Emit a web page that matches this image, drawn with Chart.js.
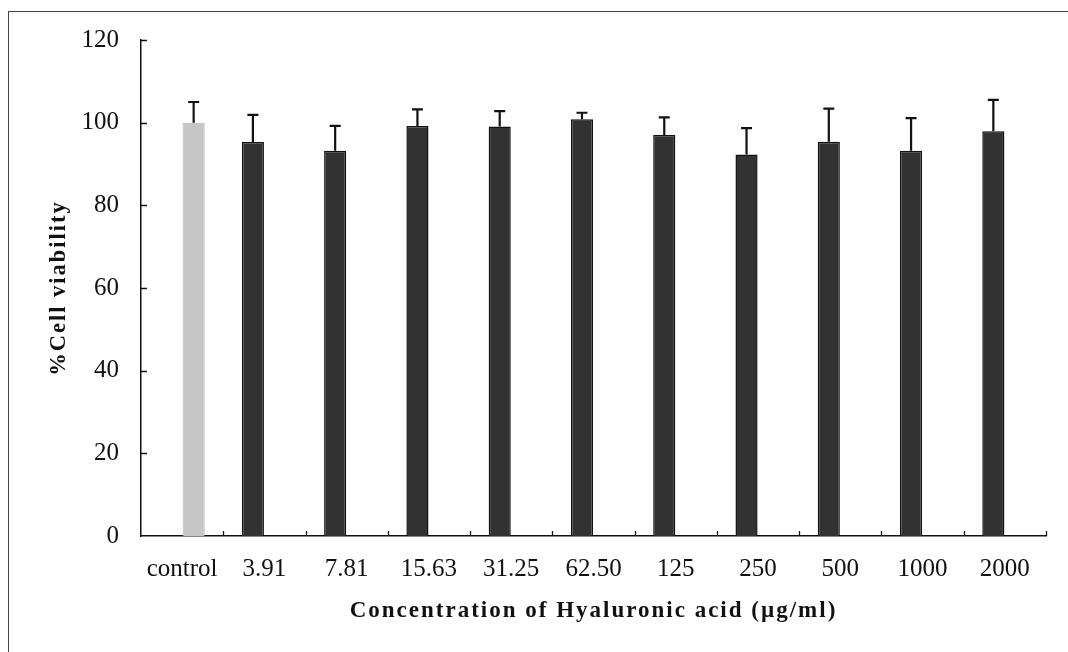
<!DOCTYPE html>
<html><head><meta charset="utf-8">
<script src="https://cdn.jsdelivr.net/npm/chart.js@4.4.0/dist/chart.umd.min.js"></script>
<style>html,body{margin:0;padding:0;background:#fff;}#wrap{width:1068px;height:652px;}</style>
</head><body><div id="wrap"><canvas id="c" width="1068" height="652"></canvas></div>
<script>
// ---- data ----
const categories = ['control', '3.91', '7.81', '15.63', '31.25', '62.50', '125', '250', '500', '1000', '2000'];
const controlValues = [100, null, null, null, null, null, null, null, null, null, null];
const treatmentValues = [null, 95.3, 93.2, 99.2, 99.1, 100.8, 97.0, 92.3, 95.4, 93.2, 97.9];
const errorValues = [5.0, 6.6, 6.0, 4.0, 3.7, 1.6, 4.3, 6.4, 8.0, 7.9, 7.6];
const yTicks = [0, 20, 40, 60, 80, 100, 120];

const SERIF = "'Liberation Serif', 'Times New Roman', serif";

const framePlugin = {
  id: 'frame',
  beforeDraw(chart) {
    const ctx = chart.ctx;
    ctx.save();
    ctx.fillStyle = '#fff';
    ctx.fillRect(0, 0, chart.width, chart.height);
    ctx.strokeStyle = '#444';
    ctx.lineWidth = 1;
    ctx.strokeRect(8.5, 11.5, chart.width + 20, chart.height + 20);
    ctx.restore();
    ctx.letterSpacing = '2px';
  },
  beforeDatasetsDraw(chart) {
    chart.ctx.letterSpacing = '0px';
  }
};

const errorBarPlugin = {
  id: 'errorBars',
  afterDatasetsDraw(chart) {
    const ctx = chart.ctx;
    const y = chart.scales.y;
    ctx.save();
    ctx.strokeStyle = '#111';
    ctx.lineWidth = 2.2;
    chart.data.datasets.forEach((ds, d) => {
      const meta = chart.getDatasetMeta(d);
      meta.data.forEach((el, i) => {
        const v = ds.data[i];
        if (v === null || v === undefined) return;
        const top = y.getPixelForValue(v + errorValues[i]);
        const base = y.getPixelForValue(v);
        ctx.beginPath();
        ctx.moveTo(el.x, base);
        ctx.lineTo(el.x, top);
        ctx.moveTo(el.x - 5.5, top);
        ctx.lineTo(el.x + 5.5, top);
        ctx.stroke();
      });
    });
    ctx.restore();
  }
};

const innerTicksPlugin = {
  id: 'innerTicks',
  afterDatasetsDraw(chart) {
    const ctx = chart.ctx;
    const {x, y} = chart.scales;
    const a = chart.chartArea;
    ctx.save();
    ctx.strokeStyle = '#111';
    ctx.lineWidth = 1.3;
    ctx.beginPath();
    yTicks.forEach(t => {
      if (t === 0) return;
      const py = Math.round(y.getPixelForValue(t)) + 0.5;
      ctx.moveTo(a.left, py);
      ctx.lineTo(a.left + 6, py);
    });
    for (let i = 0; i < categories.length; i++) {
      const px = Math.round(x.getPixelForValue(i + 0.5)) + 0.5;
      ctx.moveTo(px, a.bottom);
      ctx.lineTo(px, a.bottom - 5);
    }
    ctx.stroke();
    ctx.restore();
  }
};

new Chart(document.getElementById('c'), {
  type: 'bar',
  data: {
    labels: categories,
    datasets: [
      {
        label: 'Hyaluronic acid',
        data: treatmentValues,
        backgroundColor: '#323232',
        borderColor: '#111111',
        borderWidth: 1.5
      },
      {
        label: 'control',
        data: controlValues,
        backgroundColor: '#c6c6c6',
        borderColor: '#b5b5b5',
        borderWidth: 1
      }
    ]
  },
  options: {
    responsive: false,
    animation: false,
    devicePixelRatio: 1,
    categoryPercentage: 0.56,
    barPercentage: 0.96,
    layout: {padding: {left: 35, top: 40, right: 22, bottom: 27}},
    plugins: {legend: {display: false}, tooltip: {enabled: false}},
    scales: {
      x: {
        type: 'category',
        offset: true,
        grid: {display: false, drawTicks: false},
        border: {display: true, color: '#111', width: 1.5},
        ticks: {color: '#111', font: {family: SERIF, size: 25}, padding: 18, z: 1, maxRotation: 0, autoSkip: false},
        title: {
          display: true,
          text: 'Concentration of Hyaluronic acid (µg/ml)',
          color: '#111',
          font: {family: SERIF, size: 23, weight: 'bold'},
          padding: {top: 0, bottom: 0}
        },
        afterFit(s) { s.height = 89; }
      },
      y: {
        min: 0,
        max: 120,
        afterBuildTicks(s) { s.ticks = yTicks.map(v => ({value: v})); },
        grid: {display: false, drawTicks: false},
        border: {display: true, color: '#111', width: 1.5},
        ticks: {color: '#111', font: {family: SERIF, size: 25}, padding: 22, z: 1},
        title: {
          display: true,
          text: '%Cell viability',
          color: '#111',
          font: {family: SERIF, size: 22.5, weight: 'bold'},
          padding: {top: 11, bottom: 0}
        },
        afterFit(s) { s.width = 106; }
      }
    }
  },
  plugins: [framePlugin, errorBarPlugin, innerTicksPlugin]
});
</script>
</body></html>
